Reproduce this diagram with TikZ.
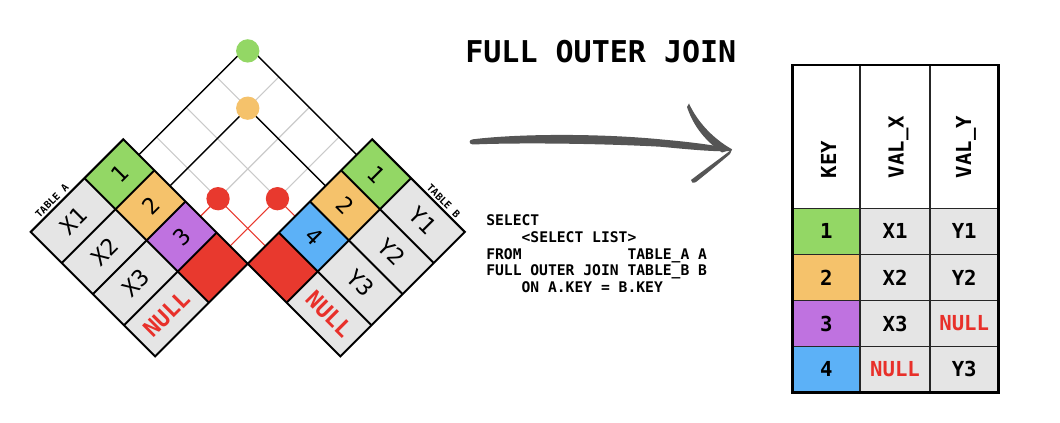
\documentclass[tikz,border=0pt]{standalone}
\usepackage{fontspec}
\setmainfont{DejaVu Sans Mono}
\definecolor{cgreen}{HTML}{93D765}
\definecolor{corange}{HTML}{F5C26B}
\definecolor{cpurple}{HTML}{BF72E0}
\definecolor{cblue}{HTML}{5CB1F7}
\definecolor{cred}{HTML}{E8392E}
\definecolor{cgray}{HTML}{E5E5E5}
\definecolor{gridgray}{HTML}{CACACA}
\definecolor{arrowgray}{HTML}{555555}
\definecolor{nullred}{HTML}{E8302A}
\begin{document}
\begin{tikzpicture}[x=0.75pt,y=-0.75pt,
  ascope/.style={shift={(123.3,139.3)},x={(0.53033pt,-0.53033pt)},y={(-0.53033pt,-0.53033pt)}},
  bscope/.style={shift={(372.2,139.3)},x={(-0.53033pt,-0.53033pt)},y={(0.53033pt,-0.53033pt)}},
  tline/.style={draw=black,line width=1.5pt},
  gline/.style={draw=gridgray,line width=0.8pt},
  kline/.style={draw=black,line width=1.1pt},
  rline/.style={draw=cred,line width=0.8pt},
  dot/.style={circle,inner sep=0pt,minimum size=17.5pt},
  cell/.style={inner sep=0pt,font=\fontsize{17pt}{20pt}\selectfont},
  nullcell/.style={inner sep=0pt,text=nullred,font=\bfseries\fontsize{17pt}{20pt}\selectfont},
  tablbl/.style={inner sep=0pt,font=\bfseries\fontsize{7.5pt}{9pt}\selectfont},
  rtxt/.style={inner sep=0pt,font=\bfseries\fontsize{15.5pt}{18pt}\selectfont},
  hdr/.style={rtxt,rotate=90,anchor=base west},
  router/.style={draw=black,line width=2.2pt},
  rinner/.style={draw=black!85,line width=1pt}
]
\useasboundingbox (0,0) rectangle (1060,423);

% ---------- lattice coordinates (table A frame) ----------
\begin{scope}[ascope]
 \coordinate (a0) at (22,0);
 \coordinate (a1) at (66,0);
 \coordinate (a2) at (109,0);
 \coordinate (a3) at (151,0);
 \coordinate (b0) at (176,-154);
 \coordinate (b1) at (176,-110);
 \coordinate (b2) at (176,-67);
 \coordinate (b3) at (176,-25);
 \coordinate (apex) at (22,-154);
 \coordinate (ea1) at (66,-154);
 \coordinate (ea2) at (109,-154);
 \coordinate (ea3) at (151,-154);
 \coordinate (eb1) at (22,-110);
 \coordinate (eb2) at (22,-67);
 \coordinate (eb3) at (22,-25);
 \coordinate (pO) at (66,-110);
 \coordinate (pL) at (109,-25);
 \coordinate (pR) at (151,-67);
 \coordinate (pG) at (25.5,-150.5);
\end{scope}

% gray continuation lines
\draw[gline] (pO) -- (ea1);
\draw[gline] (pL) -- (ea2);
\draw[gline] (pR) -- (ea3);
\draw[gline] (pO) -- (eb1);
\draw[gline] (pR) -- (eb2);
\draw[gline] (pL) -- (eb3);
% black matches
\draw[kline] (a0) -- (apex) -- (b0);
\draw[kline] (a1) -- (pO) -- (b1);
% red unmatched
\draw[rline] (a2) -- (pL) -- (b3);
\draw[rline] (a3) -- (pR) -- (b2);

% ---------- TABLE A ----------
\begin{scope}[ascope]
 \fill[cgreen] (0,0) -- (44,0) -- (44,55) -- (0,55) -- cycle;
 \fill[corange] (44,0) -- (88,0) -- (88,55) -- (44,55) -- cycle;
 \fill[cpurple] (88,0) -- (132,0) -- (132,55) -- (88,55) -- cycle;
 \fill[cred] (132,0) -- (176,0) -- (176,55) -- (132,55) -- cycle;
 \fill[cgray] (0,55) -- (176,55) -- (176,131) -- (0,131) -- cycle;
 \draw[tline] (0,0) -- (176,0) -- (176,131) -- (0,131) -- cycle;
 \draw[tline] (0,55) -- (176,55);
 \draw[tline] (44,0) -- (44,131) (88,0) -- (88,131) (132,0) -- (132,131);
 \node[cell,rotate=45] (ak1) at (22,27.5) {1};
 \node[cell,rotate=45] (ak2) at (66,27.5) {2};
 \node[cell,rotate=45] (ak3) at (110,27.5) {3};
 \node[cell,rotate=45] (av1) at (22,93) {X1};
 \node[cell,rotate=45] (av2) at (66,93) {X2};
 \node[cell,rotate=45] (av3) at (110,93) {X3};
 \node[nullcell,rotate=45] (av4) at (154,93) {NULL};
 \node[tablbl,rotate=45] (tla) at (-7,94) {TABLE A};
\end{scope}

% ---------- TABLE B ----------
\begin{scope}[bscope]
 \fill[cgreen] (0,0) -- (44,0) -- (44,55) -- (0,55) -- cycle;
 \fill[corange] (44,0) -- (88,0) -- (88,55) -- (44,55) -- cycle;
 \fill[cblue] (88,0) -- (132,0) -- (132,55) -- (88,55) -- cycle;
 \fill[cred] (132,0) -- (176,0) -- (176,55) -- (132,55) -- cycle;
 \fill[cgray] (0,55) -- (176,55) -- (176,131) -- (0,131) -- cycle;
 \draw[tline] (0,0) -- (176,0) -- (176,131) -- (0,131) -- cycle;
 \draw[tline] (0,55) -- (176,55);
 \draw[tline] (44,0) -- (44,131) (88,0) -- (88,131) (132,0) -- (132,131);
 \node[cell,rotate=-45] (bk1) at (22,27.5) {1};
 \node[cell,rotate=-45] (bk2) at (66,27.5) {2};
 \node[cell,rotate=-45] (bk4) at (110,27.5) {4};
 \node[cell,rotate=-45] (bv1) at (22,93) {Y1};
 \node[cell,rotate=-45] (bv2) at (66,93) {Y2};
 \node[cell,rotate=-45] (bv3) at (110,93) {Y3};
 \node[nullcell,rotate=-45] (bv4) at (154,93) {NULL};
 \node[tablbl,rotate=-45] (tlb) at (-7,94) {TABLE B};
\end{scope}

% dots
\node[dot,fill=cgreen] (dg) at (pG) {};
\node[dot,fill=corange] (do) at (pO) {};
\node[dot,fill=cred] (dl) at (pL) {};
\node[dot,fill=cred] (dr) at (pR) {};

% ---------- title ----------
\node[inner sep=0pt,font=\bfseries\fontsize{22.5pt}{27pt}\selectfont] (title) at (600.8,51.7) {FULL OUTER JOIN};

% ---------- arrow ----------
\coordinate (arS) at (471,141.5);
\coordinate (arT) at (732,149.3);
\fill[arrowgray] (473,139.3) .. controls (520,133.5) and (600,133.5) .. (660,139.3) .. controls (690,142) and (715,145) .. (arT) -- (731,151) .. controls (715,152) and (690,149.5) .. (660,146.7) .. controls (600,143.5) and (520,142.5) .. (473,144.5) .. controls (468.5,144.5) and (468.5,139.5) .. (473,139.3) -- cycle;
\fill[arrowgray] (689,103.5) .. controls (697,121) and (712,138) .. (arT) -- (722,152.5) .. controls (707,142) and (694,128) .. (687,107) -- cycle;
\fill[arrowgray] (arT) .. controls (718,160) and (704,170) .. (691,180) .. controls (690.5,182.5) and (693.5,183.5) .. (696,182) .. controls (708,172.5) and (720,162.5) .. (730,154) -- cycle;

% ---------- SQL ----------
\node[inner sep=0pt,anchor=north west,align=left,font=\bfseries\fontsize{11pt}{12.6pt}\selectfont] (sql) at (486,214.3)
 {SELECT\\
  \phantom{ABCD}<SELECT LIST>\\
  \makebox[0pt][l]{FROM}\phantom{FULL OUTER JOIN} TABLE\_A A\\
  FULL OUTER JOIN TABLE\_B B\\
  \phantom{ABCD}ON A.KEY = B.KEY};

% ---------- result table ----------
\fill[cgreen] (792.7,208.3) rectangle (860,254.5);
\fill[corange] (792.7,254.5) rectangle (860,300.5);
\fill[cpurple] (792.7,300.5) rectangle (860,346.5);
\fill[cblue] (792.7,346.5) rectangle (860,392.3);
\fill[cgray] (860,208.3) rectangle (998.3,392.3);
\draw[rinner] (860,65) -- (860,392.3) (930,65) -- (930,392.3);
\draw[rinner] (792.7,208.3) -- (998.3,208.3) (792.7,254.5) -- (998.3,254.5) (792.7,300.5) -- (998.3,300.5) (792.7,346.5) -- (998.3,346.5);
\draw[router] (792.7,65) rectangle (998.3,392.3);
\node[hdr] (hk) at (836,178.5) {KEY};
\node[hdr] (hx) at (903.5,178.5) {VAL\_X};
\node[hdr] (hy) at (971,178.5) {VAL\_Y};
\node[rtxt] (k1) at (826.3,231.4) {1};
\node[rtxt] (k2) at (826.3,277.5) {2};
\node[rtxt] (k3) at (826.3,323.5) {3};
\node[rtxt] (k4) at (826.3,369.4) {4};
\node[rtxt] (x1) at (895,231.4) {X1};
\node[rtxt] (x2) at (895,277.5) {X2};
\node[rtxt] (x3) at (895,323.5) {X3};
\node[rtxt,text=nullred] (x4) at (895,369.4) {NULL};
\node[rtxt] (y1) at (964.2,231.4) {Y1};
\node[rtxt] (y2) at (964.2,277.5) {Y2};
\node[rtxt,text=nullred] (y3) at (964.2,323.5) {NULL};
\node[rtxt] (y4) at (964.2,369.4) {Y3};
\end{tikzpicture}
\end{document}
